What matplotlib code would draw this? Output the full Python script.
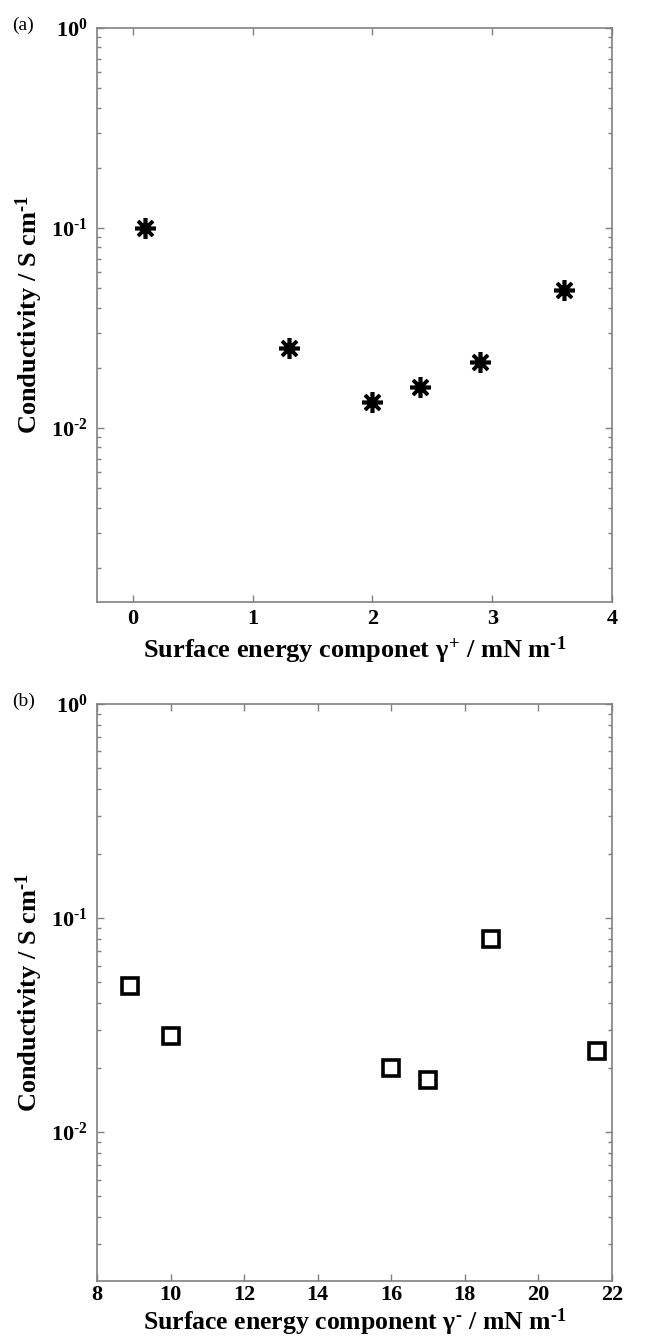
import matplotlib
matplotlib.use("Agg")
import matplotlib.pyplot as plt
from matplotlib.ticker import LogLocator, NullFormatter, FixedLocator

plt.rcParams['font.family'] = ['Liberation Serif', 'DejaVu Serif']
plt.rcParams['mathtext.fontset'] = 'custom'
plt.rcParams['mathtext.rm'] = 'Liberation Serif:bold'
plt.rcParams['mathtext.it'] = 'Liberation Serif:bold'
plt.rcParams['mathtext.bf'] = 'Liberation Serif:bold'

# data
gamma_plus = [0.1, 1.3, 2.0, 2.4, 2.9, 3.6]
cond_a = [0.1, 0.025, 0.0135, 0.016, 0.0215, 0.049]

gamma_minus = [8.9, 10.0, 16.0, 17.0, 18.7, 21.6]
cond_b = [0.048, 0.028, 0.02, 0.0175, 0.08, 0.024]

xticks_a = [0, 1, 2, 3, 4]
xticks_b = [8, 10, 12, 14, 16, 18, 20, 22]
ytick_labels = ['$10^{\u20102}$', '$10^{\u20101}$', '$10^{0}$']

W, H = 657, 1341
fig = plt.figure(figsize=(W / 100, H / 100), dpi=100)

axcol = '#808080'


def style(ax):
    ax.set_yscale('log')
    for s in ax.spines.values():
        s.set_color(axcol)
        s.set_linewidth(1.2)
    ax.tick_params(which='both', direction='in', top=True, right=True,
                   color=axcol, labelsize=16)
    ax.tick_params(axis='y', pad=7)
    ax.tick_params(which='major', length=5, width=1)
    ax.tick_params(which='minor', length=3, width=1)
    ax.yaxis.set_major_locator(FixedLocator([1e-2, 1e-1, 1e0]))
    ax.yaxis.set_minor_locator(LogLocator(base=10, subs=range(2, 10)))
    ax.yaxis.set_minor_formatter(NullFormatter())
    ax.set_yticklabels(ytick_labels)
    ax.set_ylabel('Conductivity / S cm$^{\u20101}$', fontsize=19,
                  fontweight='bold', labelpad=4)


# (a)
ax1 = fig.add_axes([97 / W, 1 - 602 / H, 515 / W, 574 / H])
ax1.plot(gamma_plus, cond_a, linestyle='none', marker=(8, 2, 0),
         markersize=15, markeredgewidth=2.6, color='black')
ax1.set_xlim(-0.3, 4)
ax1.set_ylim(10 ** -2.87, 1)
ax1.set_xticks(xticks_a)
ax1.set_xticklabels([str(t) for t in xticks_a], fontweight='bold')
style(ax1)
ax1.tick_params(axis='x', pad=5)
ax1.set_xlabel('Surface energy componet $\\gamma^{+}$ / mN m$^{\u20101}$',
               fontsize=19, fontweight='bold', labelpad=4)
fig.text(12 / W, 1 - 25 / H, '(a)', fontsize=14, ha='left', va='center')

# (b)
ax2 = fig.add_axes([97 / W, 1 - 1281 / H, 515 / W, 577 / H])
ax2.plot(gamma_minus, cond_b, linestyle='none', marker='s',
         markersize=11, markeredgewidth=2.6, markerfacecolor='none',
         color='black')
ax2.set_xlim(8, 22)
ax2.set_ylim(10 ** -2.696, 1)
ax2.set_xticks(xticks_b)
ax2.set_xticklabels([str(t) for t in xticks_b], fontweight='bold')
style(ax2)
ax2.tick_params(axis='x', pad=3)
ax2.set_xlabel('Surface energy component $\\gamma^{\u2010}$ / mN m$^{\u20101}$',
               fontsize=18.5, fontweight='bold', labelpad=1)
fig.text(12 / W, 1 - 701 / H, '(b)', fontsize=14, ha='left', va='center')

fig.savefig('out.png', dpi=100)
